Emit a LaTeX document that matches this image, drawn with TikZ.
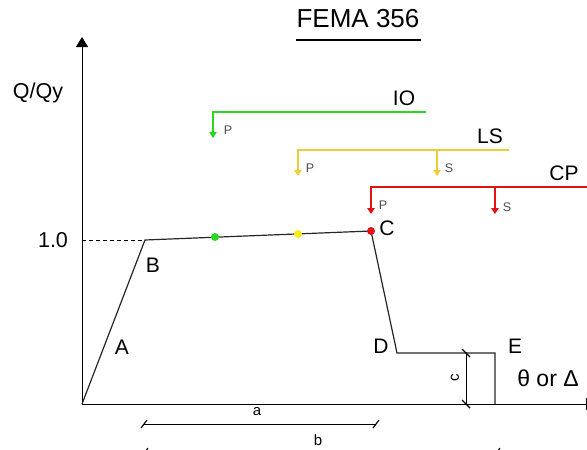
\documentclass[tikz,border=0pt]{standalone}
\usepackage{fontspec}
\setmainfont{Liberation Sans}
\usetikzlibrary{arrows.meta}
\definecolor{iog}{RGB}{40,215,30}
\definecolor{lsy}{RGB}{238,205,60}
\definecolor{lsdot}{RGB}{250,235,20}
\definecolor{cpr}{RGB}{225,20,20}
\begin{document}
\begin{tikzpicture}[x=1pt,y=-1pt,
  lbl/.style={inner sep=0pt,font=\fontsize{21}{21}\selectfont},
  small/.style={inner sep=0pt,font=\fontsize{12.5}{12.5}\selectfont,text=black!70},
  dl/.style={inner sep=0pt,font=\fontsize{15}{15}\selectfont},
  curve/.style={line width=1.2pt,black!85},
  axis/.style={line width=1pt,-{Triangle[length=10pt,width=12pt]}},
  lvl/.style={line width=2.4pt,line cap=rect},
  drop/.style={line width=2.2pt,-{Triangle[length=6pt,width=7.5pt]}},
  dim/.style={line width=0.8pt},
  tick/.style={line width=1.1pt},
  dot/.style={circle,inner sep=0pt,minimum size=8pt}]
\useasboundingbox (0,0) rectangle (587,450);
\clip (0,0) rectangle (587,450);
% axes
\coordinate (O) at (82,404);
\coordinate (ytop) at (82,37);
\coordinate (xend) at (596,404);
\draw[axis] (O) -- (ytop);
\draw[axis] (O) -- (xend);
% curve
\coordinate (B) at (145,240);
\coordinate (Cp) at (371,231);
\coordinate (D) at (397,353);
\coordinate (E) at (495,353);
\coordinate (Eb) at (495,404);
\coordinate (y1) at (82,240);
\draw[line width=0.7pt,dash pattern=on 4pt off 3pt] (y1) -- (B);
\draw[curve] (O) -- (B) -- (Cp) -- (D) -- (E) -- (Eb);
\node[dot,fill=iog] (g) at (215,237) {};
\node[dot,fill=lsdot] (y) at (298,234) {};
\node[dot,fill=cpr] (r) at (Cp) {};
% labels
\node[lbl] (tA) at (122,347) {A};
\node[lbl] (tB) at (153,265) {B};
\node[lbl] (tC) at (387,228) {C};
\node[lbl] (tD) at (381,346) {D};
\node[lbl] (tE) at (515,346) {E};
\node[lbl,font=\fontsize{23}{23}\selectfont] (th) at (548,378) {θ or Δ};
\node[lbl,font=\fontsize{21.5}{21.5}\selectfont] (one) at (53,240) {1.0};
\node[lbl,font=\fontsize{21.5}{21.5}\selectfont] (qq) at (38,93) {Q/Qy};
\node[lbl,font=\fontsize{26}{26}\selectfont] (title) at (358,19) {FEMA 356};
\draw[line width=1.8pt] (296,40) -- (421,40);
% IO
\coordinate (io1) at (213,112);
\coordinate (io2) at (425,112);
\coordinate (io3) at (213,138);
\draw[lvl,iog] (io2) -- (io1);
\draw[drop,iog] (io1) -- (io3);
\node[lbl] (tIO) at (404,98) {IO};
\node[small] (ioP) at (228,130) {P};
% LS
\coordinate (ls1) at (298,150);
\coordinate (ls2) at (508,150);
\coordinate (lsP) at (298,176);
\coordinate (lsSt) at (437,150);
\coordinate (lsS) at (437,176);
\draw[lvl,lsy] (ls2) -- (ls1);
\draw[drop,lsy] (ls1) -- (lsP);
\draw[drop,lsy] (lsSt) -- (lsS);
\node[lbl] (tLS) at (490,136) {LS};
\node[small] (lsPt) at (310,168) {P};
\node[small] (lsSt2) at (449,168) {S};
% CP
\coordinate (cp1) at (371,187);
\coordinate (cp2) at (590,187);
\coordinate (cpP) at (371,214);
\coordinate (cpSt) at (495,187);
\coordinate (cpS) at (495,214);
\draw[lvl,cpr] (cp2) -- (cp1);
\draw[drop,cpr] (cp1) -- (cpP);
\draw[drop,cpr] (cpSt) -- (cpS);
\node[lbl] (tCP) at (564,173) {CP};
\node[small] (cpPt) at (383,205) {P};
\node[small] (cpSt2) at (507,207) {S};
% dimension a
\coordinate (a1) at (144,424);
\coordinate (a2) at (376,424);
\draw[dim] (a1) -- (a2);
\draw[tick] ([shift={(-3,4)}]a1) -- ([shift={(3,-4)}]a1);
\draw[tick] ([shift={(-3,4)}]a2) -- ([shift={(3,-4)}]a2);
\node[dl] (ta) at (257,412) {a};
% dimension b
\coordinate (b1) at (145,452);
\coordinate (b2) at (497,452);
\draw[dim] (b1) -- (b2);
\draw[tick] ([shift={(-3,4)}]b1) -- ([shift={(3,-4)}]b1);
\draw[tick] ([shift={(-3,4)}]b2) -- ([shift={(3,-4)}]b2);
\node[dl] (tb) at (318,440) {b};
% dimension c
\coordinate (c1) at (466,353);
\coordinate (c2) at (466,404);
\draw[dim] (c1) -- (c2);
\draw[tick] ([shift={(-4,-4)}]c1) -- ([shift={(4,4)}]c1);
\draw[tick] ([shift={(-4,-4)}]c2) -- ([shift={(4,4)}]c2);
\node[dl,rotate=90] (tc) at (455,378) {c};
\end{tikzpicture}
\end{document}
